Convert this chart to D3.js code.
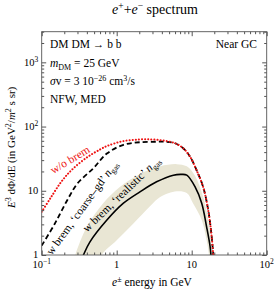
<!DOCTYPE html>
<html>
<head>
<meta charset="utf-8">
<script src="https://cdn.jsdelivr.net/npm/d3@7"></script>
<style>
  body { margin: 0; background: #fff; }
</style>
</head>
<body>
<svg class="chart" width="274" height="295"></svg>
<script>
// data: [energy GeV, E^3 dPhi/dE]
const noBrem = [[0.1,4.7],[0.13,7.6],[0.18,13.5],[0.25,21],[0.4,33],[0.6,44],[0.75,50],[1.2,59],[2,63],[3,63],[4.4,60],[6,55],[7.7,46],[9.5,34],[11.6,21],[14.2,11.5],[16.6,5],[18.5,1.9],[19.8,0.7]]
const coarseGas = [[0.1,1.4],[0.15,3.1],[0.22,7.2],[0.3,13],[0.49,22.5],[0.74,38],[1.23,52],[2.04,57],[3.4,58],[4.4,58],[6,55],[7.7,46],[9.5,34],[11.6,21],[14.2,11.5],[16.6,5],[18.5,1.9],[19.8,0.7]]
const realisticGas = [[0.33,0.8],[0.36,1],[0.44,1.6],[0.74,3.5],[1.23,6.4],[2.04,9.6],[3.4,13.8],[5.7,17.5],[7.3,18],[8.6,17.5],[11.1,11.5],[13.6,6.4],[15.8,2.75],[17.6,1.35],[18.3,0.8]]
const bandUpper = [[0.25,0.6],[0.28,1],[0.4,2.75],[0.66,6.4],[1.1,11.5],[2.0,18],[3.8,24],[6.3,26],[8.6,24],[11.1,17],[14.2,8.1],[16.6,3.5],[18.5,1.2],[19,0.6]]
const bandLower = [[0.55,0.6],[0.63,1],[1.0,1.7],[1.67,3.1],[2.8,5.8],[3.8,8],[6.3,9.8],[8.6,9.2],[10.4,6.4],[13.6,3.5],[15.8,1.7],[17,1],[17.5,0.6]]

const xMajor = [0.1, 1, 10, 100]
const xMajorLabels = [["10","−1"],["1",""],["10",""],["10","2"]]
const yMajor = [1, 10, 100, 1000]
const yMajorLabels = [["1",""],["10",""],["10","2"],["10","3"]]

const margin = {left: 41.7, right: 7.3, top: 31.7, bottom: 40}
const width = 274, height = 295
const innerWidth = width - margin.left - margin.right
const innerHeight = height - margin.top - margin.bottom

const svg = d3.select(".chart").attr("font-family", "'Liberation Serif', 'DejaVu Serif', serif")
const xScale = d3.scaleLog().domain([0.1, 100]).range([0, innerWidth])
const yScale = d3.scaleLog().domain([1, 3000]).range([innerHeight, 0])

const chart = svg.append("g").attr("transform", `translate(${margin.left}, ${margin.top})`)

svg.append("defs").append("clipPath").attr("id", "plotclip")
  .append("rect").attr("width", innerWidth).attr("height", innerHeight)

const minors = (lo, hi) => {
  const out = []
  for (let d = lo; d < hi; d *= 10) for (let k = 2; k <= 9; k++) if (d * k <= hi) out.push(d * k)
  return out
}
const xMinor = minors(0.1, 100)
const yMinor = minors(1, 3000)

const plot = chart.append("g").attr("clip-path", "url(#plotclip)")
const line = d3.line().x(d => xScale(d[0])).y(d => yScale(d[1])).curve(d3.curveCatmullRom)

// band
const bandPts = bandUpper.concat(bandLower.slice().reverse())
plot.append("path").attr("d", line(bandPts) + "Z").attr("fill", "#e9e6d4").attr("stroke", "none")

plot.append("path").attr("d", line(realisticGas)).attr("fill", "none").attr("stroke", "#000").attr("stroke-width", 1.6)
plot.append("path").attr("d", line(coarseGas)).attr("fill", "none").attr("stroke", "#000").attr("stroke-width", 1.8).attr("stroke-dasharray", "5,3")
plot.append("path").attr("d", line(noBrem)).attr("fill", "none").attr("stroke", "#ee1111").attr("stroke-width", 2)
  .attr("stroke-dasharray", "0.1,3").attr("stroke-linecap", "round")

// axes with inward ticks on all four sides
const tickCol = "#555"
const drawTicks = (g) => g.call(s => s.select(".domain").remove()).selectAll("line").attr("stroke", tickCol)
chart.append("g").attr("transform", `translate(0,${innerHeight})`).call(d3.axisBottom(xScale).tickValues(xMajor).tickSize(-4.5).tickFormat("")).call(drawTicks)
chart.append("g").attr("transform", `translate(0,${innerHeight})`).call(d3.axisBottom(xScale).tickValues(xMinor).tickSize(-2.5).tickFormat("")).call(drawTicks)
chart.append("g").call(d3.axisTop(xScale).tickValues(xMajor).tickSize(-4.5).tickFormat("")).call(drawTicks)
chart.append("g").call(d3.axisTop(xScale).tickValues(xMinor).tickSize(-2.5).tickFormat("")).call(drawTicks)
chart.append("g").call(d3.axisLeft(yScale).tickValues(yMajor).tickSize(-4.5).tickFormat("")).call(drawTicks)
chart.append("g").call(d3.axisLeft(yScale).tickValues(yMinor).tickSize(-2.5).tickFormat("")).call(drawTicks)
chart.append("g").attr("transform", `translate(${innerWidth},0)`).call(d3.axisRight(yScale).tickValues(yMajor).tickSize(-4.5).tickFormat("")).call(drawTicks)
chart.append("g").attr("transform", `translate(${innerWidth},0)`).call(d3.axisRight(yScale).tickValues(yMinor).tickSize(-2.5).tickFormat("")).call(drawTicks)
svg.selectAll(".tick text").remove()

chart.append("rect").attr("width", innerWidth).attr("height", innerHeight).attr("fill", "none").attr("stroke", tickCol).attr("stroke-width", 0.9)

// tick labels
xMajor.forEach((v, i) => {
  const t = chart.append("text").attr("x", xScale(v)).attr("y", innerHeight + 13.5).attr("text-anchor", "middle").attr("font-size", 10.5)
  t.append("tspan").text(xMajorLabels[i][0])
  if (xMajorLabels[i][1]) t.append("tspan").attr("dy", -4).attr("font-size", 7.5).text(xMajorLabels[i][1])
})
yMajor.forEach((v, i) => {
  const t = chart.append("text").attr("x", -3.5).attr("y", yScale(v) + 3.5).attr("text-anchor", "end").attr("font-size", 10.5)
  t.append("tspan").text(yMajorLabels[i][0])
  if (yMajorLabels[i][1]) t.append("tspan").attr("dy", -4).attr("font-size", 7.5).text(yMajorLabels[i][1])
})

// title
const title = svg.append("text").attr("x", 155).attr("y", 14).attr("text-anchor", "middle").attr("font-size", 14)
title.append("tspan").attr("font-style", "italic").text("e")
title.append("tspan").attr("dy", -5).attr("font-size", 9.5).text("+")
title.append("tspan").attr("dy", 5).text("+")
title.append("tspan").attr("font-style", "italic").text("e")
title.append("tspan").attr("dy", -5).attr("font-size", 9.5).text("−")
title.append("tspan").attr("dy", 5).text("  spectrum")

// x label
const xl = svg.append("text").attr("x", 152).attr("y", 286).attr("text-anchor", "middle").attr("font-size", 11.5)
xl.append("tspan").attr("font-style", "italic").text("e")
xl.append("tspan").attr("dy", -4.5).attr("font-size", 8).text("±")
xl.append("tspan").attr("dy", 4.5).text(" energy in GeV")

// y label
const yl = svg.append("text").attr("transform", `translate(15, ${margin.top + innerHeight / 2 + 4}) rotate(-90)`).attr("text-anchor", "middle").attr("font-size", 11)
yl.append("tspan").attr("font-style", "italic").text("E")
yl.append("tspan").attr("dy", -4.5).attr("font-size", 8).text("3")
yl.append("tspan").attr("dy", 4.5).text(" dΦ/dE  (in GeV")
yl.append("tspan").attr("dy", -4.5).attr("font-size", 8).text("2")
yl.append("tspan").attr("dy", 4.5).text("/")
yl.append("tspan").attr("font-style", "italic").text("m")
yl.append("tspan").attr("dy", -4.5).attr("font-size", 8).text("2")
yl.append("tspan").attr("dy", 4.5).text(" s sr)")

// info box
const info = svg.append("g").attr("font-size", 11.5)
info.append("text").attr("x", 50).attr("y", 48).text("DM DM → b b")
const m = info.append("text").attr("x", 50).attr("y", 67)
m.append("tspan").attr("font-style", "italic").text("m")
m.append("tspan").attr("dy", 2.5).attr("font-size", 8).text("DM")
m.append("tspan").attr("dy", -2.5).text(" = 25 GeV")
const sv = info.append("text").attr("x", 50).attr("y", 85)
sv.append("tspan").attr("font-style", "italic").text("σ")
sv.append("tspan").text("v = 3  10")
sv.append("tspan").attr("dy", -4.5).attr("font-size", 8).text("−26")
sv.append("tspan").attr("dy", 4.5).text("  cm")
sv.append("tspan").attr("dy", -4.5).attr("font-size", 8).text("3")
sv.append("tspan").attr("dy", 4.5).text("/s")
info.append("text").attr("x", 50).attr("y", 103).text("NFW, MED")
info.append("text").attr("x", 257).attr("y", 48).attr("text-anchor", "end").text("Near GC")

// curve labels
const lab = (x, y, ang, col) => svg.append("text").attr("transform", `translate(${x},${y}) rotate(${ang})`)
  .attr("text-anchor", "middle").attr("font-size", 11.5).attr("fill", col)
lab(72, 163, -31, "#ee1111").text("w/o brem")
const l2 = lab(85, 210, -54, "#000")
l2.append("tspan").text("w brem, ‘coarse–gd’ ")
l2.append("tspan").attr("font-style", "italic").text("n")
l2.append("tspan").attr("dy", 2.5).attr("font-size", 8).text("gas")
const l3 = lab(124, 197, -44, "#000")
l3.append("tspan").text("w brem, ‘realistic’ ")
l3.append("tspan").attr("font-style", "italic").text("n")
l3.append("tspan").attr("dy", 2.5).attr("font-size", 8).text("gas")
</script>
</body>
</html>
